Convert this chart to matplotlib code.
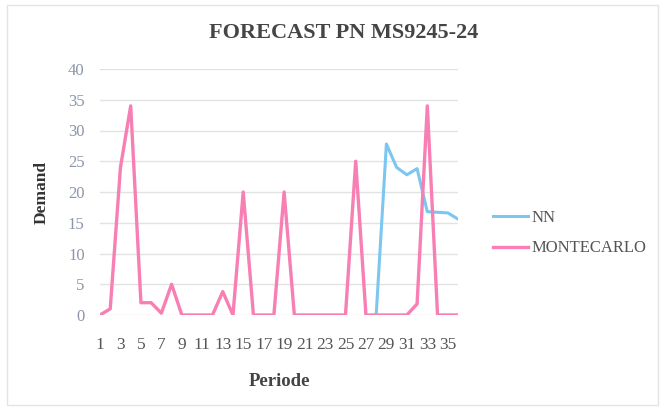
import numpy as np
import matplotlib
matplotlib.use('Agg')
from matplotlib import pyplot as plt
from matplotlib.patches import Rectangle

# Forecast series for part number MS9245-24
periods = np.arange(1, 37)
montecarlo = [0, 1, 24, 34, 2, 2, 0.3, 5, 0, 0, 0, 0, 3.8, 0, 20, 0, 0, 0, 20, 0,
              0, 0, 0, 0, 0, 25, 0, 0, 0, 0, 0, 1.8, 34, 0, 0, 0]
nn_periods = np.arange(28, 37)
nn = [0, 27.8, 24, 22.8, 23.8, 16.8, 16.7, 16.6, 15.6]
xtick_labels = [str(p) for p in range(1, 37, 2)]

plt.rcParams['font.family'] = ['Liberation Serif', 'DejaVu Serif']

fig = plt.figure(figsize=(6.7, 4.13), dpi=100)
fig.patch.set_facecolor('white')
# faint chart border
fig.patches.append(Rectangle((7/670, 8/413), 651/670, 400/413, transform=fig.transFigure,
                             fill=False, edgecolor='#e4e4e4', linewidth=1))

ax = fig.add_axes([100/670, 98/413, 358/670, 246/413])
ax.plot(nn_periods, nn, color='#7cc6f2', linewidth=2.2, label='NN')
ax.plot(periods, montecarlo, color='#f77fb3', linewidth=2.4, label='MONTECARLO')

ax.set_xlim(1, 36)
ax.set_ylim(0, 40)
ax.set_yticks(np.arange(0, 41, 5))
ax.set_xticks(np.arange(1, 37, 2))
ax.set_xticklabels(xtick_labels)
ax.grid(axis='y', color='#e2e2e2', linewidth=1)
ax.set_axisbelow(True)
for s in ax.spines.values():
    s.set_visible(False)
ax.tick_params(axis='both', length=0)
ax.tick_params(axis='y', pad=11, labelsize=12, labelcolor='#8c96a8')
ax.tick_params(axis='x', pad=16, labelsize=12.5, labelcolor='#555555')

ax.set_xlabel('Periode', fontsize=13.5, fontweight='bold', color='#444444', labelpad=14)
ax.set_ylabel('Demand', fontsize=12.5, fontweight='bold', color='#333333', labelpad=13)
fig.suptitle('FORECAST PN MS9245-24', x=344/670, y=1 - 33/413, va='center',
             fontsize=16, fontweight='bold', color='#454545')

fig.legend(loc='center left', bbox_to_anchor=(478/670, 1 - 233/413), frameon=False,
           fontsize=12, handlelength=2.1, handletextpad=0.2, labelspacing=0.9,
           labelcolor='#555555')

fig.savefig('out.png', dpi=100, facecolor='white')
